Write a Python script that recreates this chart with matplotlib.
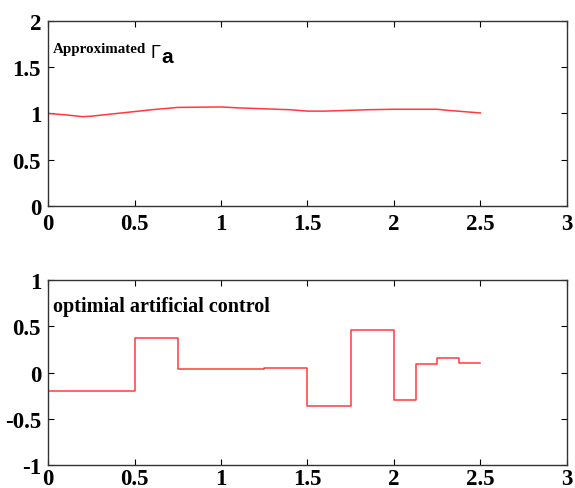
import matplotlib
matplotlib.use("Agg")
import matplotlib.pyplot as plt

# approximated Gamma_a (top panel)
t_gamma = [0, 0.1, 0.2, 0.25, 0.4, 0.5, 0.6, 0.75, 1.0, 1.1, 1.25, 1.4, 1.5,
           1.6, 1.85, 2.0, 2.25, 2.3, 2.4, 2.5]
gamma_a = [1.0, 0.985, 0.965, 0.97, 1.0, 1.02, 1.04, 1.065, 1.07, 1.06, 1.05,
           1.04, 1.025, 1.025, 1.04, 1.045, 1.045, 1.035, 1.02, 1.005]

# piecewise-constant control (bottom panel)
t_ctrl = [0, 0.5, 0.75, 1.25, 1.5, 1.75, 2.0, 2.125, 2.25, 2.375, 2.5]
u_ctrl = [-0.20, 0.37, 0.035, 0.055, -0.36, 0.46, -0.30, 0.09, 0.16, 0.105, 0.105]

plt.rcParams["font.family"] = ["Liberation Serif", "DejaVu Serif"]

fig = plt.figure(figsize=(5.75, 4.89), dpi=100)
ax1 = fig.add_axes([0.0835, 0.577, 0.9025, 0.378])
ax2 = fig.add_axes([0.0835, 0.047, 0.9025, 0.378])

ax1.plot(t_gamma, gamma_a, color="#ff3a3a", lw=1.1)
ax1.set_ylim(0, 2)
ax1.set_yticks([0, 0.5, 1, 1.5, 2])
ax1.set_yticklabels(["0", "0.5", "1", "1.5", "2"])
# label: "Approximated" + Gamma + large subscript a (pixel positions)
fig.text(53 / 575, 1 - 53 / 489, "Approximated", fontsize=10.8,
         fontweight="bold", va="baseline")
fig.text(150 / 575, 1 - 58 / 489, "\u0393", fontsize=13,
         family="Liberation Sans", va="baseline")
fig.text(161 / 575, 1 - 63 / 489, "a", fontsize=15, fontweight="bold",
         family="Liberation Sans", va="baseline")

ax2.plot(t_ctrl, u_ctrl, color="#ff3a3a", lw=1.1, drawstyle="steps-post")
ax2.set_ylim(-1, 1)
ax2.set_yticks([-1, -0.5, 0, 0.5, 1])
ax2.set_yticklabels(["-1", "-0.5", "0", "0.5", "1"])
fig.text(53 / 575, 1 - 312 / 489, "optimial artificial control",
         fontsize=14.5, fontweight="bold", va="baseline")

for ax in (ax1, ax2):
    ax.set_xlim(0, 3)
    ax.set_xticks([0, 0.5, 1, 1.5, 2, 2.5, 3])
    ax.set_xticklabels(["0", "0.5", "1", "1.5", "2", "2.5", "3"])
    ax.tick_params(direction="in", top=True, right=True, length=4,
                   labelsize=16.5, width=0.8)
    ax.tick_params(axis="y", pad=5)
    for lab in ax.get_xticklabels() + ax.get_yticklabels():
        lab.set_fontweight("bold")
    for sp in ax.spines.values():
        sp.set_linewidth(1.0)
        sp.set_color("#333333")

ax1.tick_params(axis="x", pad=5)
ax2.tick_params(axis="x", pad=2)

fig.savefig("out.png", dpi=100)
